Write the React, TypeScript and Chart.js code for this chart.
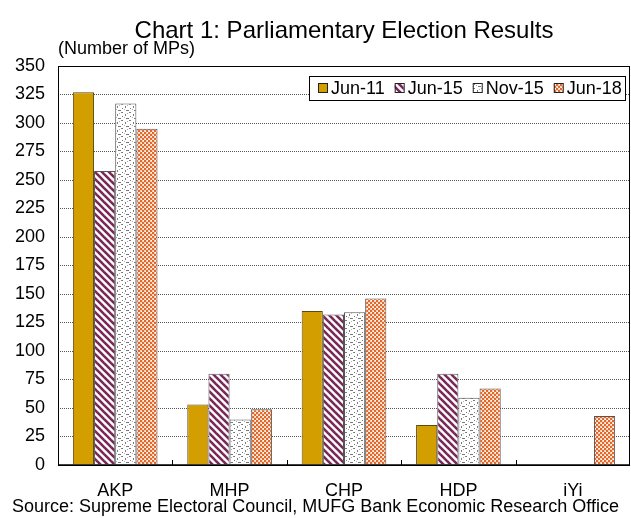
import { useEffect, useRef } from 'react';
import { Chart, registerables } from 'chart.js';

Chart.register(...registerables);

// Seats won per party at each parliamentary election
const parties = ['AKP', 'MHP', 'CHP', 'HDP', 'iYi'];
const elections = ['Jun-11', 'Jun-15', 'Nov-15', 'Jun-18'];
const seatsJun11 = [327, 53, 135, 35, null];
const seatsJun15 = [258, 80, 132, 80, null];
const seatsNov15 = [317, 40, 134, 59, null];
const seatsJun18 = [295, 49, 146, 67, 43];
const yMin = 0;
const yMax = 350;
const yStep = 25;

const TITLE = 'Chart 1: Parliamentary Election Results';
const UNIT = '(Number of MPs)';
const SOURCE = 'Source: Supreme Electoral Council, MUFG Bank Economic Research Office';

const FONT = '"Liberation Sans", Arial, Helvetica, sans-serif';

function makeTile(size: number, paint: (c: CanvasRenderingContext2D) => void): CanvasPattern {
  const cv = document.createElement('canvas');
  cv.width = size;
  cv.height = size;
  const c = cv.getContext('2d')!;
  paint(c);
  const p = document.createElement('canvas').getContext('2d')!.createPattern(cv, 'repeat');
  return p as CanvasPattern;
}

function buildFills() {
  const solid = '#D29E00';
  const stripes = makeTile(7, (c) => {
    c.fillStyle = '#ffffff';
    c.fillRect(0, 0, 7, 7);
    c.strokeStyle = '#7A2858';
    c.lineWidth = 2.6;
    for (const off of [-7, 0, 7]) {
      c.beginPath();
      c.moveTo(-2 + off, -2);
      c.lineTo(9 + off, 9);
      c.stroke();
    }
  });
  const dots = makeTile(8, (c) => {
    c.fillStyle = '#ffffff';
    c.fillRect(0, 0, 8, 8);
    c.fillStyle = '#7a7a7a';
    c.fillRect(1, 0, 2, 1);
    c.fillRect(5, 2, 1, 2);
    c.fillRect(2, 4, 1, 1);
    c.fillRect(6, 6, 2, 1);
    c.fillRect(0, 6, 1, 1);
    c.fillStyle = '#b0b0b0';
    c.fillRect(4, 5, 1, 1);
    c.fillRect(7, 1, 1, 1);
  });
  const checks = makeTile(4, (c) => {
    c.fillStyle = '#F7D2BC';
    c.fillRect(0, 0, 4, 4);
    c.fillStyle = '#E4682A';
    c.fillRect(0, 0, 2, 2);
    c.fillRect(2, 2, 2, 2);
    c.fillStyle = '#ffffff';
    c.fillRect(3, 0, 1, 1);
    c.fillRect(1, 3, 1, 1);
  });
  return [solid, stripes, dots, checks] as (string | CanvasPattern)[];
}

export default function App() {
  const ref = useRef<HTMLCanvasElement | null>(null);

  useEffect(() => {
    const canvas = ref.current;
    if (!canvas) return;
    const fills = buildFills();
    const borders = ['#5a4a1a', '#555555', '#555555', '#555555'];
    const series = [seatsJun11, seatsJun15, seatsNov15, seatsJun18];

    const decor = {
      id: 'decor',
      afterDraw(chart: any) {
        const { ctx, chartArea: a } = chart;
        ctx.save();

        // plot frame
        ctx.strokeStyle = '#000';
        ctx.lineWidth = 1;
        ctx.strokeRect(a.left + 0.5, a.top + 0.5, a.right - a.left - 1, a.bottom - a.top);
        ctx.lineWidth = 1.6;
        ctx.beginPath();
        ctx.moveTo(a.left, a.bottom);
        ctx.lineTo(a.right, a.bottom);
        ctx.stroke();

        // small inward ticks between categories
        const xs = chart.scales.x;
        ctx.lineWidth = 1;
        for (let i = 1; i < parties.length; i++) {
          const x = Math.round((xs.getPixelForTick(i - 1) + xs.getPixelForTick(i)) / 2) + 0.5;
          ctx.beginPath();
          ctx.moveTo(x, a.bottom);
          ctx.lineTo(x, a.bottom - 5);
          ctx.stroke();
        }

        // titles
        ctx.fillStyle = '#000';
        ctx.textBaseline = 'middle';
        ctx.textAlign = 'center';
        ctx.font = `24px ${FONT}`;
        ctx.fillText(TITLE, (a.left + a.right) / 2, 31);
        ctx.textAlign = 'left';
        ctx.font = `18px ${FONT}`;
        ctx.fillText(UNIT, a.left, 49);
        ctx.textAlign = 'center';
        ctx.fillText(SOURCE, chart.width / 2, 507);

        // legend
        const bx = 309;
        const by = 76;
        ctx.fillStyle = '#fff';
        ctx.fillRect(bx, by, 316, 24);
        ctx.strokeStyle = '#000';
        ctx.strokeRect(bx + 0.5, by + 0.5, 316, 24);
        let x = 318;
        ctx.textAlign = 'left';
        ctx.font = `18px ${FONT}`;
        elections.forEach((name, i) => {
          ctx.fillStyle = fills[i];
          ctx.fillRect(x, 83, 9, 9);
          ctx.strokeStyle = '#222';
          ctx.strokeRect(x + 0.5, 83.5, 9, 9);
          ctx.fillStyle = '#000';
          ctx.fillText(name, x + 13, 89);
          x += 13 + ctx.measureText(name).width + 10;
        });
        ctx.restore();
      },
    };

    const chart = new Chart(canvas, {
      type: 'bar',
      data: {
        labels: parties,
        datasets: elections.map((name, i) => ({
          label: name,
          data: series[i],
          backgroundColor: fills[i],
          borderColor: borders[i],
          borderWidth: 1,
          barPercentage: 1,
          categoryPercentage: 0.74,
        })),
      },
      options: {
        responsive: false,
        animation: false,
        devicePixelRatio: 1,
        layout: { padding: { top: 66, right: 1, left: 0, bottom: 0 } },
        plugins: {
          legend: { display: false },
          title: { display: false },
          tooltip: { enabled: false },
        },
        scales: {
          x: {
            grid: { display: false, drawTicks: false },
            border: { display: false },
            ticks: { color: '#000', font: { family: FONT, size: 18 }, padding: 15 },
            afterFit: (s: any) => {
              s.height = 53;
            },
          },
          y: {
            min: yMin,
            max: yMax,
            grid: { color: '#555', drawTicks: false, lineWidth: 1 },
            border: { display: false, dash: [1, 1] },
            ticks: { stepSize: yStep, color: '#000', font: { family: FONT, size: 18 }, padding: 13 },
            afterFit: (s: any) => {
              s.width = 58;
            },
          },
        },
      },
      plugins: [decor],
    });

    return () => chart.destroy();
  }, []);

  return (
    <div style={{ position: 'fixed', left: 0, top: 0, width: 631, height: 518, background: '#fff' }}>
      <canvas ref={ref} width={631} height={518} />
    </div>
  );
}
